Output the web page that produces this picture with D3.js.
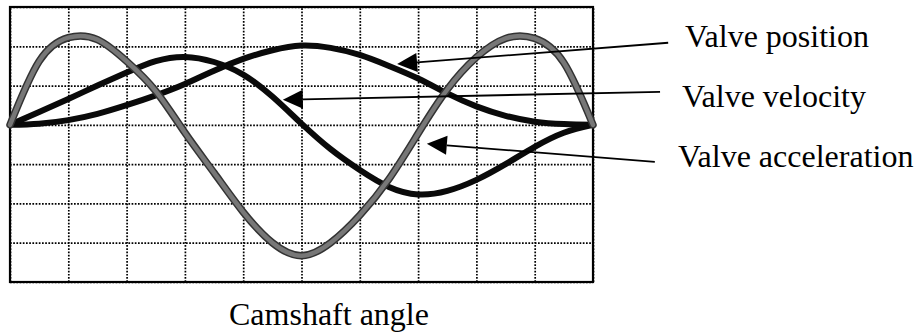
<!DOCTYPE html>
<html>
<head>
<meta charset="utf-8">
<script src="https://cdn.jsdelivr.net/npm/d3@7"></script>
<style>
  body { margin: 0; background: #fff; }
  svg { display: block; }
</style>
</head>
<body>
<div id="chart"></div>
<script>
// camshaft angle in grid divisions, curves in grid divisions (0 = zero line)
const angle = [0, 0.5, 1, 1.5, 2, 2.5, 3, 3.5, 4, 4.5, 5, 5.5, 6, 6.5, 7, 7.5, 8, 8.5, 9, 9.5, 10];
const position = [0, 0.03, 0.12, 0.28, 0.5, 0.75, 1.04, 1.38, 1.68, 1.9, 2.02, 1.96, 1.78, 1.5, 1.18, 0.8, 0.47, 0.23, 0.08, 0.02, 0];
const velocity = [0, 0.33, 0.66, 1.0, 1.33, 1.62, 1.73, 1.6, 1.28, 0.72, 0.03, -0.62, -1.15, -1.58, -1.77, -1.68, -1.4, -1.0, -0.56, -0.2, 0];
const acceleration = [0, 1.62, 2.22, 2.17, 1.62, 0.86, -0.2, -1.22, -2.22, -3.0, -3.33, -3.0, -2.3, -1.38, -0.22, 0.9, 1.72, 2.2, 2.2, 1.58, 0];

const labels = ["Valve position", "Valve velocity", "Valve acceleration"];
const xLabel = "Camshaft angle";

function init() {
    const W = 919, H = 332;
    const box = { left: 10, top: 7, right: 593, bottom: 282 };

    const svg = d3.select("#chart")
        .append("svg")
        .attr("width", W)
        .attr("height", H);

    const x = d3.scaleLinear().domain([0, 10]).range([box.left, box.right]);
    const y = d3.scaleLinear().domain([-4, 3]).range([box.bottom, box.top]);

    // dotted grid
    const gx = svg.append("g")
        .attr("transform", `translate(0,${box.bottom})`)
        .call(d3.axisBottom(x).ticks(10).tickSize(-(box.bottom - box.top)).tickFormat(""));
    const gy = svg.append("g")
        .attr("transform", `translate(${box.left},0)`)
        .call(d3.axisLeft(y).ticks(7).tickSize(-(box.right - box.left)).tickFormat(""));
    [gx, gy].forEach(g => {
        g.select(".domain").remove();
        g.selectAll(".tick line")
            .attr("stroke", "#000")
            .attr("stroke-width", 1.7)
            .attr("stroke-dasharray", "1.7,1.5");
    });

    // frame
    svg.append("rect")
        .attr("x", box.left)
        .attr("y", box.top)
        .attr("width", box.right - box.left)
        .attr("height", box.bottom - box.top)
        .attr("fill", "none")
        .attr("stroke", "#000")
        .attr("stroke-width", 2.2);

    const line = vals => d3.line()
        .x((d, i) => x(angle[i]))
        .y(d => y(d))
        .curve(d3.curveNatural)(vals);

    [position, velocity].forEach(vals => {
        svg.append("path")
            .attr("d", line(vals))
            .attr("fill", "none")
            .attr("stroke", "#0a0a0a")
            .attr("stroke-width", 6)
            .attr("stroke-linecap", "round");
    });

    // acceleration: grey with darker rim
    svg.append("path")
        .attr("d", line(acceleration))
        .attr("fill", "none")
        .attr("stroke", "#333")
        .attr("stroke-width", 7.5)
        .attr("stroke-linecap", "round");
    svg.append("path")
        .attr("d", line(acceleration))
        .attr("fill", "none")
        .attr("stroke", "#777")
        .attr("stroke-width", 4.5)
        .attr("stroke-linecap", "round");

    // arrows from labels to curves (tip and tail in chart units)
    const arrows = [
        { tip: [6.64, 1.55], tail: [11.29, 2.09] },
        { tip: [4.68, 0.64], tail: [11.15, 0.84] },
        { tip: [7.15, -0.48], tail: [11.06, -0.94] }
    ];
    const headLen = 20, headHalf = 9.5;
    arrows.forEach(a => {
        const tx = x(a.tip[0]), ty = y(a.tip[1]);
        const sx = x(a.tail[0]), sy = y(a.tail[1]);
        const len = Math.hypot(tx - sx, ty - sy);
        const ux = (tx - sx) / len, uy = (ty - sy) / len;
        const bx = tx - ux * headLen, by = ty - uy * headLen;
        svg.append("line")
            .attr("x1", sx).attr("y1", sy)
            .attr("x2", bx).attr("y2", by)
            .attr("stroke", "#000")
            .attr("stroke-width", 1.8);
        svg.append("polygon")
            .attr("points", [
                [tx, ty],
                [bx - uy * headHalf, by + ux * headHalf],
                [bx + uy * headHalf, by - ux * headHalf]
            ].map(p => p.join(",")).join(" "))
            .attr("fill", "#000");
    });

    const labelPos = [[685, 47], [682, 107], [678, 167]];
    svg.selectAll(".lbl")
        .data(labels)
        .join("text")
        .attr("class", "lbl")
        .attr("x", (d, i) => labelPos[i][0])
        .attr("y", (d, i) => labelPos[i][1])
        .attr("font-family", "'Liberation Serif', 'Times New Roman', serif")
        .attr("font-size", "32px")
        .attr("fill", "#000")
        .text(d => d);

    svg.append("text")
        .attr("x", 229)
        .attr("y", 325)
        .attr("font-family", "'Liberation Serif', 'Times New Roman', serif")
        .attr("font-size", "32px")
        .attr("fill", "#000")
        .text(xLabel);
}

window.onload = init;
</script>
</body>
</html>
